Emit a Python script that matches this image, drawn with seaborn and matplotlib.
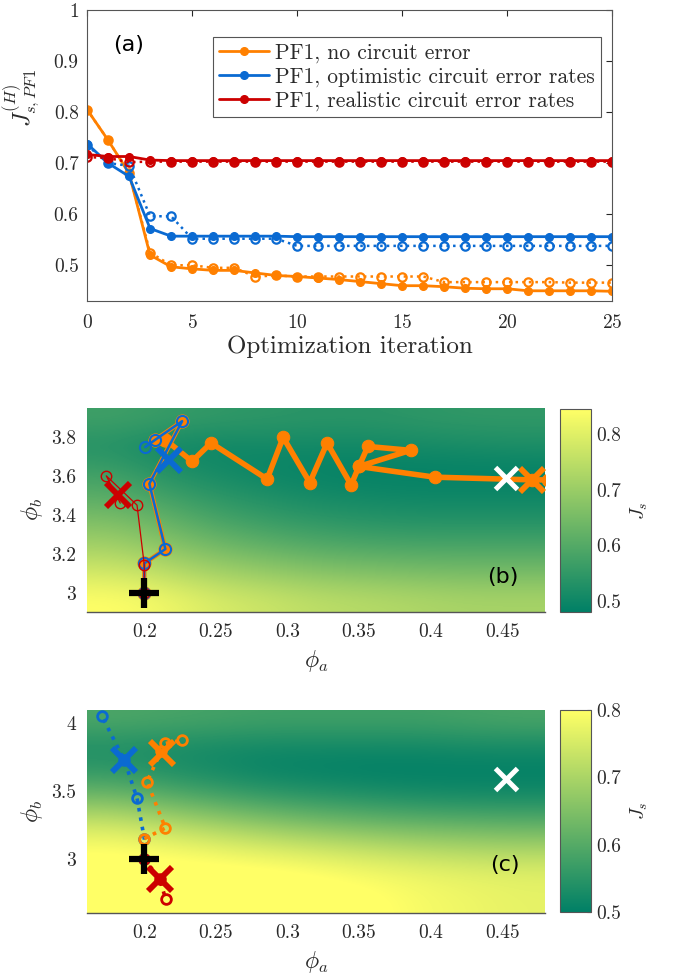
import numpy as np
import matplotlib
matplotlib.use("Agg")
import matplotlib.pyplot as plt
import seaborn as sns

# ---- panel (a): cost vs optimization iteration ----
iters = list(range(26))
noerr_solid = [0.805, 0.745, 0.68, 0.52, 0.497, 0.493, 0.49, 0.49, 0.485, 0.48, 0.478, 0.475, 0.472,
               0.468, 0.464, 0.46, 0.46, 0.458, 0.455, 0.454, 0.454, 0.45, 0.45, 0.45, 0.45, 0.449]
noerr_dot = [0.805, 0.745, 0.68, 0.525, 0.50, 0.50, 0.495, 0.495, 0.478, 0.48, 0.478, 0.478, 0.478,
             0.478, 0.478, 0.478, 0.478, 0.467, 0.467, 0.467, 0.467, 0.467, 0.467, 0.466, 0.466, 0.466]
opt_solid = [0.738, 0.70, 0.674, 0.572, 0.557, 0.557, 0.557, 0.557, 0.557, 0.557, 0.556, 0.556, 0.556,
             0.556, 0.556, 0.556, 0.556, 0.556, 0.556, 0.556, 0.556, 0.556, 0.556, 0.556, 0.556, 0.556]
opt_dot = [0.735, 0.70, 0.695, 0.596, 0.596, 0.552, 0.552, 0.552, 0.552, 0.552, 0.538, 0.538, 0.538,
           0.538, 0.538, 0.538, 0.538, 0.538, 0.538, 0.538, 0.538, 0.538, 0.538, 0.538, 0.538, 0.538]
real_solid = [0.717, 0.713, 0.713, 0.706, 0.705, 0.705, 0.705, 0.705, 0.705, 0.705, 0.705, 0.705, 0.705,
              0.705, 0.705, 0.705, 0.705, 0.705, 0.705, 0.705, 0.705, 0.705, 0.705, 0.705, 0.705, 0.705]
real_dot = [0.712, 0.710, 0.702, 0.703, 0.703, 0.703, 0.703, 0.703, 0.703, 0.703, 0.703, 0.703, 0.703,
            0.703, 0.703, 0.703, 0.703, 0.703, 0.703, 0.703, 0.703, 0.703, 0.703, 0.703, 0.703, 0.703]
legend_labels = ["PF1, no circuit error", "PF1, optimistic circuit error rates",
                 "PF1, realistic circuit error rates"]

# ---- cost landscapes (coarse grid, smoothed by imshow) ----
landscape_b = [
    [0.57, 0.56, 0.55, 0.545, 0.54, 0.54, 0.545, 0.55, 0.55],
    [0.53, 0.505, 0.50, 0.505, 0.505, 0.505, 0.51, 0.515, 0.52],
    [0.57, 0.53, 0.51, 0.495, 0.49, 0.485, 0.485, 0.485, 0.485],
    [0.61, 0.575, 0.545, 0.525, 0.51, 0.505, 0.50, 0.50, 0.50],
    [0.665, 0.63, 0.59, 0.565, 0.55, 0.54, 0.535, 0.535, 0.535],
    [0.72, 0.685, 0.65, 0.625, 0.605, 0.595, 0.59, 0.59, 0.59],
    [0.785, 0.755, 0.72, 0.70, 0.68, 0.67, 0.66, 0.655, 0.655],
    [0.845, 0.825, 0.79, 0.77, 0.75, 0.74, 0.73, 0.72, 0.72],
]
landscape_c = [
    [0.59, 0.585, 0.58, 0.575, 0.575, 0.575, 0.575, 0.58, 0.585],
    [0.535, 0.53, 0.525, 0.52, 0.52, 0.52, 0.52, 0.525, 0.525],
    [0.56, 0.54, 0.525, 0.51, 0.505, 0.50, 0.50, 0.50, 0.50],
    [0.64, 0.615, 0.59, 0.57, 0.555, 0.545, 0.535, 0.53, 0.53],
    [0.74, 0.715, 0.69, 0.665, 0.645, 0.63, 0.62, 0.615, 0.61],
    [0.80, 0.79, 0.775, 0.76, 0.745, 0.73, 0.715, 0.705, 0.70],
    [0.82, 0.82, 0.82, 0.815, 0.805, 0.79, 0.78, 0.77, 0.765],
    [0.81, 0.82, 0.83, 0.83, 0.82, 0.81, 0.79, 0.78, 0.77],
]

# ---- parameter paths (phi_a, phi_b) ----
b_noerr_a = [0.2, 0.2, 0.2147, 0.2035, 0.2264, 0.2077, 0.2147, 0.2333, 0.2466, 0.2858, 0.297,
             0.3156, 0.3277, 0.3445, 0.3499, 0.3562, 0.386, 0.3499, 0.4028, 0.471, 0.482]
b_noerr_b = [3.0, 3.15, 3.224, 3.56, 3.882, 3.787, 3.787, 3.675, 3.77, 3.584, 3.799,
             3.566, 3.77, 3.554, 3.649, 3.752, 3.732, 3.649, 3.594, 3.58, 3.58]
b_opt_a = [0.2, 0.2, 0.2147, 0.2035, 0.2264, 0.2077, 0.2007]
b_opt_b = [3.0, 3.15, 3.224, 3.56, 3.882, 3.787, 3.749]
b_real_a = [0.2, 0.2, 0.1949, 0.1734, 0.1832]
b_real_b = [3.0, 3.14, 3.45, 3.601, 3.46]
b_best = {"noerr": (0.471, 3.58), "opt": (0.217, 3.684), "real": (0.1813, 3.503)}

c_noerr_a = [0.2, 0.2147, 0.2019, 0.212, 0.2263, 0.2147]
c_noerr_b = [3.149, 3.228, 3.571, 3.8, 3.877, 3.853]
c_opt_a = [0.2, 0.2, 0.1949, 0.186, 0.1704]
c_opt_b = [3.0, 3.149, 3.449, 3.73, 4.054]
c_real_a = [0.2, 0.2107, 0.215]
c_real_b = [3.0, 2.853, 2.70]
c_best = {"noerr": (0.2124, 3.784), "opt": (0.186, 3.73), "real": (0.2107, 2.853)}

start_pt = (0.2, 3.0)
true_min = (0.4524, 3.59)

phi_a_ticks = [0.2, 0.25, 0.3, 0.35, 0.4, 0.45]
phi_a_labels = ["0.2", "0.25", "0.3", "0.35", "0.4", "0.45"]
b_phib_ticks = [3.0, 3.2, 3.4, 3.6, 3.8]
b_phib_labels = ["3", "3.2", "3.4", "3.6", "3.8"]
c_phib_ticks = [3.0, 3.5, 4.0]
c_phib_labels = ["3", "3.5", "4"]
cbar_ticks = [0.5, 0.6, 0.7, 0.8]
cbar_labels = ["0.5", "0.6", "0.7", "0.8"]
a_yticks = [0.5, 0.6, 0.7, 0.8, 0.9, 1.0]
a_ylabels = ["0.5", "0.6", "0.7", "0.8", "0.9", "1"]

ORANGE = "#ff8000"
BLUE = "#0a6ad2"
RED = "#cc0000"
AXC = "#262626"
TXT = "#2a2a2a"
TICK_FS = 14

sns.set_style("white")
plt.rcParams["font.family"] = ["cmr10", "DejaVu Serif"]
plt.rcParams["mathtext.fontset"] = "cm"
plt.rcParams["axes.formatter.use_mathtext"] = True
plt.rcParams["axes.unicode_minus"] = False

fig = plt.figure(figsize=(6.75, 9.77), dpi=100)
ax_a = fig.add_axes([0.129, 0.6919, 0.778, 0.2979])
ax_b = fig.add_axes([0.129, 0.3736, 0.6785, 0.2088])
cax_b = fig.add_axes([0.8296, 0.3736, 0.0459, 0.2078])
ax_c = fig.add_axes([0.129, 0.0655, 0.6785, 0.2078])
cax_c = fig.add_axes([0.8296, 0.0665, 0.0459, 0.2068])

# ---------------- (a) ----------------
series = [(noerr_solid, noerr_dot, ORANGE), (opt_solid, opt_dot, BLUE), (real_solid, real_dot, RED)]
handles = []
for solid, dot, col in series:
    sns.lineplot(x=iters, y=dot, ax=ax_a, color=col, lw=1.8, ls=":", marker="o", markersize=6,
                 markerfacecolor="none", markeredgecolor=col, markeredgewidth=1.6,
                 estimator=None, sort=False)
    sns.lineplot(x=iters, y=solid, ax=ax_a, color=col, lw=2.0, marker="o", markersize=5.5,
                 markerfacecolor=col, markeredgecolor=col, markeredgewidth=1.0,
                 estimator=None, sort=False)
    handles.append(ax_a.lines[-1])
ax_a.set_xlim(0, 25)
ax_a.set_ylim(0.43, 1.0)
ax_a.set_xticks([0, 5, 10, 15, 20, 25])
ax_a.set_yticks(a_yticks)
ax_a.set_yticklabels(a_ylabels)
ax_a.tick_params(direction="in", top=True, right=True, length=4, width=0.8, colors=AXC,
                 labelsize=TICK_FS, labelcolor=TXT, pad=6)
ax_a.tick_params(axis="x", pad=9)
for s in ax_a.spines.values():
    s.set_color("#555555")
    s.set_linewidth(0.8)
ax_a.set_xlabel("Optimization iteration", fontsize=18, labelpad=3, color=TXT)
ax_a.set_ylabel(r"$J^{(H)}_{s,PF1}$", fontsize=17, color=TXT)
ax_a.yaxis.set_label_coords(-0.085, 0.7)
leg = ax_a.legend(handles, legend_labels, loc="upper left", bbox_to_anchor=(0.24, 0.907),
                  fontsize=15.5, frameon=True, fancybox=False, framealpha=1, edgecolor="#555555",
                  handlelength=2.3, handletextpad=0.3, borderpad=0.28, labelspacing=0.2,
                  borderaxespad=0)
leg.get_frame().set_linewidth(0.8)
for t in leg.get_texts():
    t.set_color(TXT)
ax_a.text(0.05, 0.88, "(a)", transform=ax_a.transAxes, fontsize=16, family="DejaVu Sans",
          ha="left", va="center", color="black")


def landscape(ax, cax, grid, ylim, vmin, vmax):
    im = ax.imshow(np.array(grid), cmap="summer", vmin=vmin, vmax=vmax, aspect="auto",
                   extent=[0.16, 0.48, ylim[0], ylim[1]], origin="upper", interpolation="bicubic",
                   zorder=0)
    ax.set_xlim(0.16, 0.48)
    ax.set_ylim(*ylim)
    cb = fig.colorbar(im, cax=cax)
    cb.set_ticks(cbar_ticks)
    cb.set_ticklabels(cbar_labels)
    cb.outline.set_edgecolor("#555555")
    cb.outline.set_linewidth(0.8)
    cax.tick_params(direction="in", length=3, labelsize=TICK_FS, colors=AXC, labelcolor=TXT)
    cb.set_label(r"$J_s$", fontsize=14, labelpad=6, color=TXT)
    ax.set_xticks(phi_a_ticks)
    ax.set_xticklabels(phi_a_labels)
    ax.tick_params(direction="in", length=0, labelsize=TICK_FS, labelcolor=TXT, pad=8)
    for side in ["top", "right", "left"]:
        ax.spines[side].set_visible(False)
    ax.spines["bottom"].set_color("#555555")
    ax.spines["bottom"].set_linewidth(1.0)
    ax.set_xlabel(r"$\phi_a$", fontsize=17, labelpad=5, color=TXT)
    ax.set_ylabel(r"$\phi_b$", fontsize=17, labelpad=4, color=TXT)


def cross(ax, pt, col, ms=17, mew=4.2, marker="x", z=6):
    ax.plot([pt[0]], [pt[1]], ls="none", marker=marker, color=col, markersize=ms,
            markeredgewidth=mew, zorder=z)


# ---------------- (b) ----------------
landscape(ax_b, cax_b, landscape_b, (2.9, 3.95), 0.48, 0.846)
ax_b.set_yticks(b_phib_ticks)
ax_b.set_yticklabels(b_phib_labels)
sns.lineplot(x=b_noerr_a[:7], y=b_noerr_b[:7], ax=ax_b, color=ORANGE, lw=3.2, marker="o",
             markersize=9.5, markerfacecolor=ORANGE, markeredgecolor=ORANGE,
             estimator=None, sort=False, zorder=2)
sns.lineplot(x=b_noerr_a[6:], y=b_noerr_b[6:], ax=ax_b, color=ORANGE, lw=4.0, marker="o",
             markersize=9, markerfacecolor=ORANGE, markeredgecolor=ORANGE,
             estimator=None, sort=False, zorder=3)
sns.lineplot(x=b_opt_a, y=b_opt_b, ax=ax_b, color=BLUE, lw=1.8, marker="o", markersize=8,
             markerfacecolor="none", markeredgecolor=BLUE, markeredgewidth=1.5,
             estimator=None, sort=False, zorder=4)
sns.lineplot(x=b_real_a, y=b_real_b, ax=ax_b, color=RED, lw=0.9, marker="o", markersize=7.5,
             markerfacecolor="none", markeredgecolor=RED, markeredgewidth=1.0,
             estimator=None, sort=False, zorder=4)
cross(ax_b, b_best["noerr"], ORANGE)
cross(ax_b, b_best["opt"], BLUE)
cross(ax_b, b_best["real"], RED)
cross(ax_b, true_min, "white", ms=16, mew=3.6)
cross(ax_b, start_pt, "black", ms=22, mew=4.5, marker="+", z=7)
ax_b.text(0.873, 0.17, "(b)", transform=ax_b.transAxes, fontsize=16, family="DejaVu Sans",
          ha="left", va="center", color="black")

# ---------------- (c) ----------------
landscape(ax_c, cax_c, landscape_c, (2.6, 4.1), 0.5, 0.8)
ax_c.set_yticks(c_phib_ticks)
ax_c.set_yticklabels(c_phib_labels)
for xs, ys, col in [(c_opt_a, c_opt_b, BLUE), (c_noerr_a, c_noerr_b, ORANGE), (c_real_a, c_real_b, RED)]:
    sns.lineplot(x=xs, y=ys, ax=ax_c, color=col, lw=2.6, ls=":", marker="o", markersize=7,
                 markerfacecolor="none", markeredgecolor=col, markeredgewidth=2.0,
                 estimator=None, sort=False, zorder=3)
cross(ax_c, c_best["noerr"], ORANGE)
cross(ax_c, c_best["opt"], BLUE)
cross(ax_c, c_best["real"], RED)
cross(ax_c, true_min, "white", ms=16, mew=3.6)
cross(ax_c, start_pt, "black", ms=22, mew=4.5, marker="+", z=7)
ax_c.text(0.879, 0.236, "(c)", transform=ax_c.transAxes, fontsize=16, family="DejaVu Sans",
          ha="left", va="center", color="black")

fig.savefig("out.png", dpi=100)
